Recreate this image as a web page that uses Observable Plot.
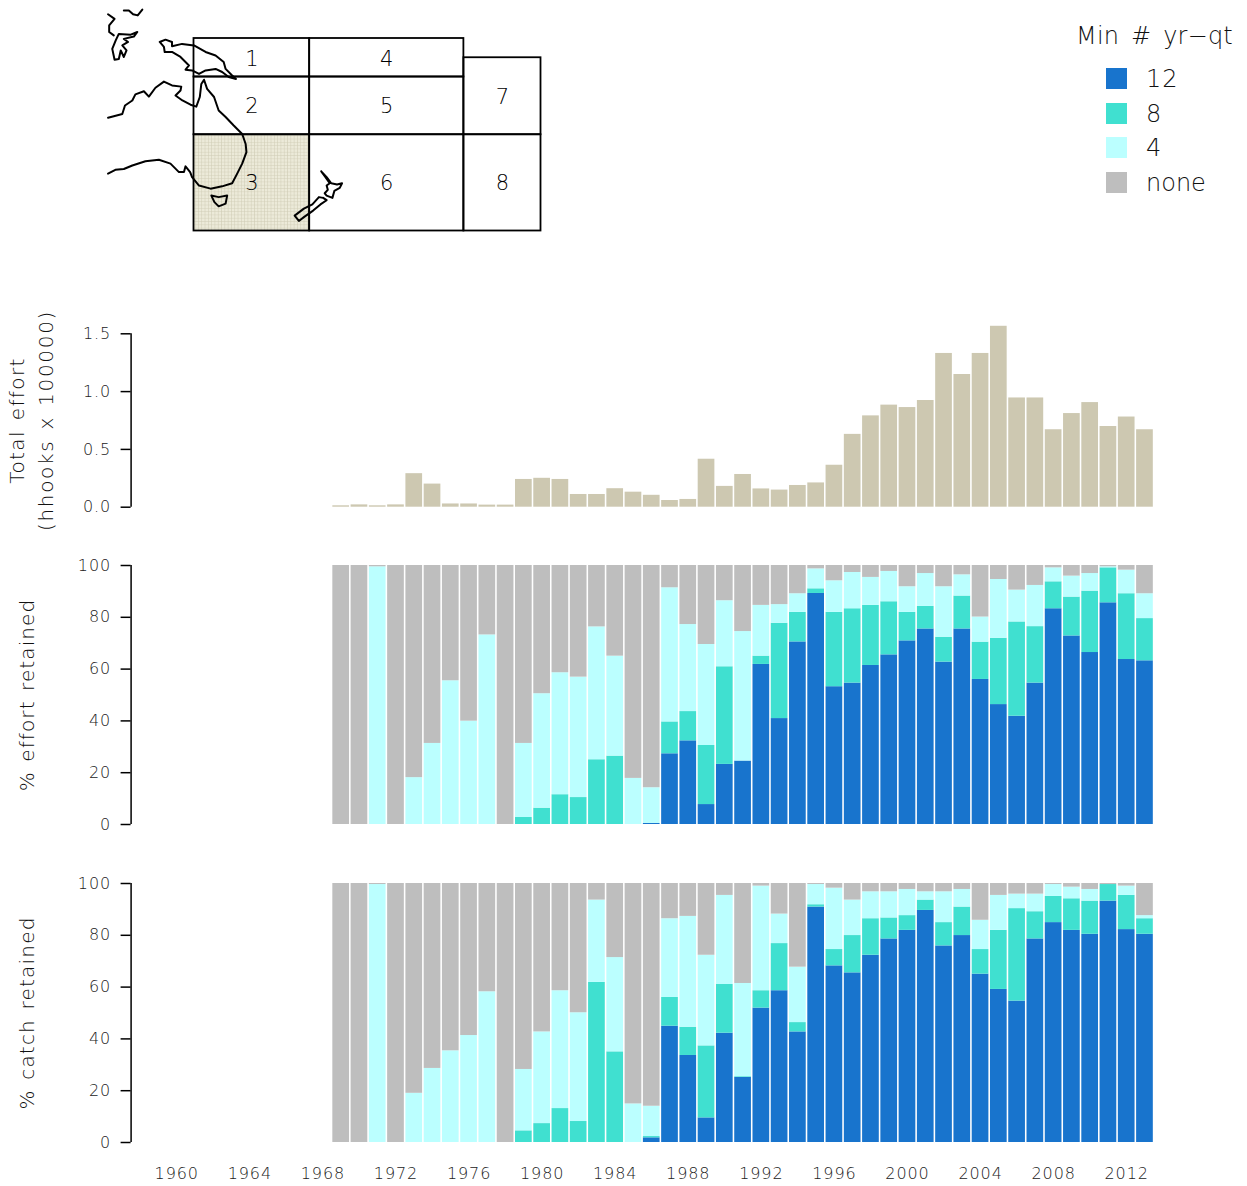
<!DOCTYPE html>
<html><head><meta charset="utf-8">
<script src="https://cdn.jsdelivr.net/npm/d3@7"></script>
<script src="https://cdn.jsdelivr.net/npm/@observablehq/plot@0.6"></script>
<style>
html,body{margin:0;padding:0;background:#fff;overflow:hidden}
#page{position:relative;width:1247px;height:1186px;font-family:"DejaVu Sans",sans-serif;font-weight:200;color:#111}
#page>div.p{position:absolute;left:0}
#page svg{display:block;background:transparent;overflow:visible}
#page svg text{font-weight:200}
.lg{position:absolute;font-size:24px;line-height:28px;white-space:pre;color:#111}
.sw{position:absolute;left:1106px;width:21px;height:21px}
</style></head><body><div id="page"></div>
<script>
const years = [1969,1970,1971,1972,1973,1974,1975,1976,1977,1978,1979,1980,1981,1982,1983,1984,1985,1986,1987,1988,1989,1990,1991,1992,1993,1994,1995,1996,1997,1998,1999,2000,2001,2002,2003,2004,2005,2006,2007,2008,2009,2010,2011,2012,2013];
const totalEffort = [.012,.02,.012,.02,.29,.2,.028,.028,.018,.018,.24,.25,.24,.11,.11,.16,.13,.103,.058,.067,.415,.18,.283,.158,.148,.188,.21,.363,.63,.79,.883,.862,.923,1.33,1.148,1.33,1.565,.945,.945,.67,.81,.905,.698,.78,.67];

// % of effort retained with at least N year-quarters (nested levels)
const effort12 = [0,0,0,0,0,0,0,0,0,0,0,0,0,0,0,0,0,.4,27.3,32.3,7.7,23.2,24.5,61.8,40.9,70.5,89.2,53.2,54.6,61.4,65.5,70.9,75.5,62.7,75.5,56,46.3,41.8,54.6,83.3,72.8,66.4,85.6,63.7,63.2];
const effort8 = [0,0,0,0,0,0,0,0,0,0,2.7,6.3,11.5,10.4,25,26.4,0,.4,39.6,43.6,30.5,60.9,24.5,65,77.7,81.9,91,81.9,83.3,84.6,86,81.9,84.2,72.3,88.2,70.4,71.9,78.2,76.4,93.7,87.8,90.1,99.1,89.1,79.5];
const effort4 = [0,0,99.5,0,18.1,31.3,55.5,39.9,73.2,0,31.3,50.5,58.6,56.9,76.3,65,17.8,14.2,91.4,77.2,69.5,86.4,74.5,84.6,84.9,89.1,98.7,94.1,97.3,95.4,97.7,91.8,96.9,91.8,96.4,80.1,94.6,90.5,92.3,99.1,95.9,96.9,99.5,98.2,89.1];

// % of catch retained with at least N year-quarters (nested levels)
const catch12 = [0,0,0,0,0,0,0,0,0,0,0,0,0,0,0,0,0,1.8,44.9,33.6,9.5,42.2,25.1,51.9,58.6,42.7,90.9,68.2,65.5,72.3,78.6,81.9,89.6,75.9,79.9,65,59.1,54.6,78.6,84.9,81.9,80.4,93.2,82.2,80.4];
const catch8 = [0,0,0,0,0,0,0,0,0,0,4.5,7.3,13.1,8.1,61.8,35,0,2.3,56,44.5,37.3,61,25.4,58.6,76.8,46.3,91.8,74.5,79.9,86.4,86.7,87.6,93.6,84.9,90.9,74.5,81.9,90.3,89.1,95,94.1,93.2,99.6,95.4,86.4];
const catch4 = [0,0,99.6,0,19,28.6,35.4,41.3,58.2,0,28.2,42.7,58.6,50.1,93.6,71.4,14.9,14,86.4,87.3,72.3,95.4,61.4,99,88.2,67.7,99.6,98.2,93.6,96.8,96.8,97.7,96.8,96.8,97.7,85.8,95.4,95.9,95.9,99.6,98.6,97.7,99.6,99,87.6];

const levels = ["12","8","4","none"];
const levelColors = ["#1874CD","#40E0D0","#BBFFFF","#BEBEBE"];
const effortColor = "#CDC8B1";
const xTicks = [1960,1964,1968,1972,1976,1980,1984,1988,1992,1996,2000,2004,2008,2012];

// map: regions [lon1, lon2, lat1, lat2]
const regionLon1 = [140,140,140,170,170,170,210,210];
const regionLon2 = [170,170,170,210,210,210,230,230];
const regionLatTop = [0,-10,-25,0,-10,-25,-5,-25];
const regionLatBot = [-10,-25,-50,-10,-25,-50,-25,-50];
const regionLabelLon = [155,155,155,190,190,190,220,220];
const regionLabelLat = [-5.4,-17.5,-37.5,-5.4,-17.5,-37.5,-15.2,-37.5];
const regionNames = ["1","2","3","4","5","6","7","8"];

const coast = {
  australia: [[117.7,-20.6],[119.2,-20.2],[121.4,-19.6],[122.1,-17.4],[124,-16.1],[124.8,-14.5],[127,-13.7],[128.3,-15.1],[130,-12.8],[132.2,-11.2],[134.3,-12.2],[136.7,-12.5],[136.5,-13.5],[135.2,-14.8],[137,-16.1],[139.1,-17.2],[140.6,-17.7],[141.5,-15.2],[141.9,-11.8],[142.6,-10.7],[143.4,-13.1],[145.2,-15.2],[146.4,-18.7],[148.2,-20.4],[150.3,-22.6],[152.5,-24.8],[153.4,-27.4],[153.6,-29.5],[152.5,-32.5],[151.2,-35.1],[149.9,-37.6],[147.3,-38.4],[144.3,-39],[141.3,-38.2],[139.5,-36],[139,-34.7],[137.8,-33.2],[137.4,-34.7],[136.1,-34.7],[133.9,-32.5],[130.9,-31.5],[127.4,-31.9],[124,-33],[121.8,-33.9],[119.6,-34.1],[117.7,-35.1]],
  tasmania: [[144.5,-40.8],[146.4,-41.2],[148.6,-40.8],[148.2,-42.9],[146.4,-43.6],[145.3,-42.5],[144.5,-40.8]],
  nzNorth: [[173,-34.5],[174.4,-36],[175.6,-37.6],[177.1,-37.9],[178.4,-37.6],[177.8,-38.8],[176.4,-39.6],[175.9,-41.4],[174.4,-40.8],[173.9,-40.2],[174.7,-39.3],[174.4,-38.2],[175.2,-37.6],[174.1,-36],[173,-34.5]],
  nzSouth: [[173.5,-41.4],[174.4,-42],[172.8,-43.1],[170.9,-44.7],[168.5,-46.4],[167.2,-47.4],[166.1,-46],[168.5,-44.2],[170.7,-43.1],[172.4,-41.2],[173.5,-41.4]],
  newGuinea: [[131.1,-.9],[132.6,-.3],[134.3,-.9],[134.3,-2],[136.9,-1.4],[140,-1.8],[143,-3.5],[145.6,-4.4],[147.7,-6.1],[148.2,-7.9],[149.9,-9.6],[150.9,-10.5],[149,-10],[147.3,-8.7],[145.6,-7.9],[143,-8.3],[141.3,-9.2],[139.5,-8.3],[137.8,-8.1],[138.7,-7],[136.5,-4.8],[134.3,-3.5],[132.4,-3.5],[132.2,-2.2],[131.1,-.9]],
  sulawesi: [[125.3,1.7],[123.6,1],[120.5,1.2],[119.7,-.5],[118.8,-2.7],[119.4,-5.5],[120.5,-5.3],[121,-3.1],[121.8,-4.8],[122.5,-3.1],[121.4,-1.8],[122.9,-.9],[121.8,-.1],[124.4,.5],[125.3,1.7]],
  borneo: [[117.7,6.3],[119.4,5.1],[118,3.4],[118,1.7],[119.2,.8]],
  mindanao: [[121.8,7.3],[123.1,7.3],[124.2,6.3],[125.4,6],[126.6,7.5]]
};

const page = document.getElementById("page");
const FONT = '"DejaVu Sans", sans-serif';
function place(el, top, left = 0) {
  const d = document.createElement("div");
  d.className = "p"; d.style.top = top + "px"; d.style.left = left + "px";
  d.appendChild(el); page.appendChild(d);
  return el;
}
const wideLabels = {"Total effort":1.4, "(hhooks x 100000)":1.7, "% effort retained":1.1, "% catch retained":1.2};
function spaceLabels(svg) {
  d3.select(svg).selectAll("text").each(function() {
    const ls = wideLabels[this.textContent];
    if (ls != null) { this.style.letterSpacing = ls + "px"; this.style.wordSpacing = "2px"; }
  });
}

// ---------- map
const regions = regionNames.map((name,i) => ({name, x1:regionLon1[i], x2:regionLon2[i], y1:regionLatBot[i], y2:regionLatTop[i], lx:regionLabelLon[i], ly:regionLabelLat[i]}));
const mapPlot = Plot.plot({
  width: 600, height: 240,
  marginLeft: 193.5, marginRight: 59.5, marginTop: 38, marginBottom: 9.5,
  x: {domain:[140,230], axis:null},
  y: {domain:[-50,0], axis:null},
  style: {background:"transparent", fontFamily:FONT},
  marks: [
    Plot.rect(regions.filter(d => d.name==="3"), {x1:"x1",x2:"x2",y1:"y1",y2:"y2",fill:"url(#mesh)"}),
    ...Object.values(coast).map(c => Plot.line(c, {x:d=>d[0], y:d=>d[1], stroke:"#000", strokeWidth:2, curve:"linear"})),
    Plot.rect(regions, {x1:"x1",x2:"x2",y1:"y1",y2:"y2",fill:"none",stroke:"#000",strokeWidth:1.8}),
    Plot.text(regions, {x:"lx", y:"ly", text:"name", fontSize:21, fill:"#000"})
  ]
});
mapPlot.insertAdjacentHTML("afterbegin",
  '<defs><pattern id="mesh" width="3.3" height="3.3" patternUnits="userSpaceOnUse"><rect width="3.3" height="3.3" fill="#ecead9"/><path d="M0 0H3.3M0 0V3.3" stroke="#cfcbb4" stroke-width="1"/></pattern></defs>');
place(mapPlot, 0);

// ---------- shared panel options
const xDomain = [1957.5, 2013.5];
const W = 1247, ML = 130.6, MR = 93.4, half = 0.457;
const axisYOpts = {anchor:"left", tickSize:10, tickPadding:10, stroke:"#000", strokeWidth:1.5, fill:"#222", label:null, fontSize:16};
const yLabel = (t, dx) => Plot.text([t], {frameAnchor:"left", dx, rotate:-90, fontSize:20, fill:"#111", text:d=>d, lineAnchor:"middle", textAnchor:"middle"});
const panelStyle = {background:"transparent", fontFamily:FONT, fontSize:"16px", letterSpacing:"0.9px"};

// ---------- total effort
spaceLabels(place(Plot.plot({
  width:W, height:220, marginLeft:ML, marginRight:MR, marginTop:33.3, marginBottom:13.3,
  x:{domain:xDomain, axis:null},
  y:{domain:[0,1.5], axis:null},
  style:panelStyle,
  marks:[
    Plot.rectY(years, {x1:d=>d-half, x2:d=>d+half, y1:0, y2:(d,i)=>totalEffort[i], fill:effortColor}),
    Plot.ruleX([xDomain[0]], {y1:0, y2:1.5, stroke:"#000", strokeWidth:1.5}),
    Plot.axisY({...axisYOpts, ticks:[0,.5,1,1.5], tickFormat:d3.format(".1f")}),
    yLabel("Total effort", -113.5),
    yLabel("(hhooks x 100000)", -85)
  ]
}), 300));

// ---------- stacked panels
function stackRows(c12, c8, c4) {
  return years.flatMap((year,i) => {
    const edges = [0, c12[i], c8[i], c4[i], 100];
    return levels.map((level,j) => ({year, level, y1:edges[j], y2:edges[j+1]})).filter(d => d.y2 > d.y1);
  });
}
function panel(c12, c8, c4, label, height, mt, mb, withX) {
  return Plot.plot({
    width:W, height, marginLeft:ML, marginRight:MR, marginTop:mt, marginBottom:mb,
    x:{domain:xDomain, axis:null},
    y:{domain:[0,100], axis:null},
    color:{domain:levels, range:levelColors},
    style:panelStyle,
    marks:[
      Plot.rectY(stackRows(c12,c8,c4), {x1:d=>d.year-half, x2:d=>d.year+half, y1:"y1", y2:"y2", fill:"level"}),
      Plot.ruleX([xDomain[0]], {y1:0, y2:100, stroke:"#000", strokeWidth:1.5}),
      Plot.axisY({...axisYOpts, ticks:[0,20,40,60,80,100]}),
      yLabel(label, -103.6),
      withX ? Plot.axisX({anchor:"bottom", ticks:xTicks, tickSize:0, tickPadding:25, tickFormat:d=>String(d), fill:"#222", stroke:"none", label:null, fontSize:16}) : null
    ]
  });
}
spaceLabels(place(panel(effort12, effort8, effort4, "% effort retained", 300, 25, 16, false), 540));
spaceLabels(place(panel(catch12, catch8, catch4, "% catch retained", 326, 23, 44, true), 860));

// ---------- legend
function lg(text, left, cy, extra={}) {
  const s = document.createElement("div"); s.className="lg"; s.textContent=text;
  s.style.left=left+"px"; s.style.top=(cy-14)+"px"; Object.assign(s.style, extra); page.appendChild(s);
}
lg("Min # yr\u2212qt", 1076, 36, {wordSpacing:"4px", letterSpacing:"0.2px"});
const legendCy = [78,113,147,182];
levels.forEach((l,i) => {
  const sw = document.createElement("div"); sw.className="sw";
  sw.style.top=(legendCy[i]-10.5)+"px"; sw.style.background=levelColors[i]; page.appendChild(sw);
  lg(l, 1146, legendCy[i]+0.7, {letterSpacing: l==="12" ? "1px" : "0"});
});
</script></body></html>
